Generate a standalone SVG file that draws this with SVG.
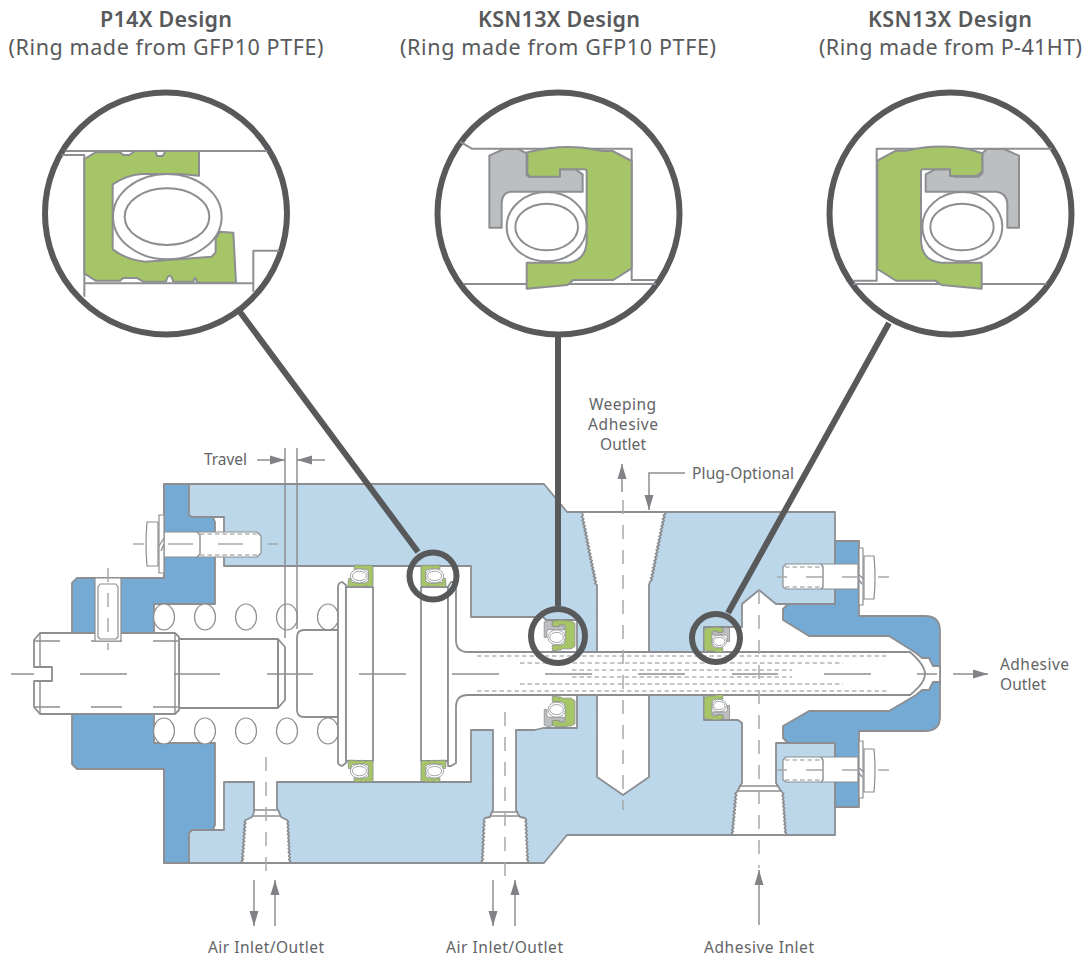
<svg xmlns="http://www.w3.org/2000/svg" xmlns:xlink="http://www.w3.org/1999/xlink" width="1086" height="958" viewBox="0 0 1086 958">
<style>
text{font-family:"Noto Sans","Liberation Sans",sans-serif;fill:#636466;text-anchor:middle}
.t{font-size:21.5px;fill:#58595b}
.b{font-weight:600}
.l{font-size:15.5px}
.ln{fill:none;stroke:#8c8e91;stroke-width:2;stroke-linejoin:round}
.th{fill:none;stroke:#8c8e91;stroke-width:1.4;stroke-linejoin:round}
.w{fill:#fff;stroke:#8c8e91;stroke-width:1.8;stroke-linejoin:round}
.w1{fill:#fff;stroke:#8c8e91;stroke-width:1.2;stroke-linejoin:round}
.c{fill:none;stroke:#a7a9ac;stroke-width:1.5}
.cd{fill:none;stroke:#8c8e91;stroke-width:1.5}
.d{fill:none;stroke:#8c8e91;stroke-width:1;stroke-dasharray:4.5 3}
.s{vector-effect:non-scaling-stroke;stroke:#8c8e91;stroke-linejoin:round}
.g{fill:#a6c567}.y{fill:#bcbec0}.o{fill:#fff}
.big{fill:#fff;stroke:#58595b;stroke-width:6}
.sm{fill:none;stroke:#58595b;stroke-width:6}
.lead{fill:none;stroke:#58595b;stroke-width:6}
.ar{fill:none;stroke:#8c8e91;stroke-width:1.5;marker-end:url(#a)}
</style>
<defs>
<marker id="a" markerUnits="userSpaceOnUse" markerWidth="16" markerHeight="10" refX="15" refY="5" orient="auto"><path d="M0,.5 L15,5 L0,9.5Z" fill="#808285"/></marker>
<g id="p14">
<path class="s g" d="M163,207 L197,187 H270 L280,195 H298 L315,183 H375 L382,198 H398 L407,183 H507 V257 L450,252 H335 Q290,255 248,283 V478 Q290,510 345,515 L545,500 L557,487 V445 L570,425 L610,428 L618,578 H510 L500,575 Q495,555 490,575 H430 Q418,540 408,575 H340 L320,564 H280 L270,572 H197 L163,550 Z"/>
<ellipse class="s o" cx="412" cy="380" rx="163" ry="128"/><ellipse class="s o" cx="411" cy="380" rx="127" ry="85"/>
</g>
<g id="ksnL">
<path class="s y" d="M178,197 L222,177 H265 L290,190 V255 L297,260 H372 V238 H437 L458,253 V305 H240 Q215,310 215,340 V413 H178 Z"/>
<path class="s g" d="M292,187 Q400,160 490,178 L518,183 H548 L605,213 V535 L550,570 H430 L412,585 L290,596 V518 H415 Q470,510 470,450 V245 Q470,238 462,238 H390 V260 H300 L292,252 Z"/>
<ellipse class="s o" cx="350" cy="410" rx="120" ry="104"/><ellipse class="s o" cx="350" cy="411" rx="94" ry="70"/>
</g>
<g id="ksnR">
<path class="s y" d="M487,190 L500,177 H552 L597,197 V413 H562 V340 Q560,310 530,305 H317 V253 L345,238 H403 V260 H475 L487,250 Z"/>
<path class="s g" d="M172,212 L228,182 H260 Q350,160 440,176 L487,190 V245 L470,258 H390 V238 H310 Q303,238 303,245 V450 Q305,515 365,518 H485 V596 L365,585 L345,572 H228 L172,537 Z"/>
<ellipse class="s o" cx="427" cy="410" rx="120" ry="104"/><ellipse class="s o" cx="426" cy="411" rx="95" ry="70"/>
</g>
<g id="bolt">
<path class="w1" d="M-1,-13 H-73 L-76,-10 V10 L-73,12 H-1 Z"/>
<path class="d" d="M-74,-10 H-36 M-74,10 H-36"/>
<path class="th" d="M-38,-13 L-36,-10 V10 L-38,12"/>
<rect class="w1" x="0" y="-29" width="4" height="57"/>
<path class="th" d="M0,-2 L5,2 M0,3 L3,7"/>
<path class="w1" d="M5,-21 H15 Q17,0 15,22 H5 Z"/>
</g>
</defs>

<g id="body">
<path class="w" style="fill:#bcd7ea" d="M164,484 H544 L567,512 H835 V835 H567 L544,863 H164 Z"/>
</g>
<g id="left-cap">
<path class="w" style="fill:#74aad3" d="M164,484 H189 V515 L192,517 H213 L215,522 V825 L213,830 H192 L189,833 V863 H164 V769 H77 L72,764 V583 L77,578 H164 Z"/>
</g>
<g id="right-cap">
<path class="w" style="fill:#74aad3" d="M835,541 H859 V616 H925 Q940,616 940,631 V717 Q940,731 925,731 H859 V807 H835 V743 H788 L783,738 V726 L790,700 V648 L783,620 V609 L788,604 H835 Z"/>
</g>
<g id="cavity">
<path class="w" d="M215,604 V522 L213,517 H224 V566 H471 V617 H543 L546,620 H577 V652 H597 V585
l-2.2,-1.74 1.5,-1.74 -2.2,-1.74 1.5,-1.74 -2.2,-1.74 1.5,-1.74 -2.2,-1.74 1.5,-1.74 -2.2,-1.74 1.5,-1.74 -2.2,-1.74 1.5,-1.74 -2.2,-1.74 1.5,-1.74 -2.2,-1.74 1.5,-1.74 -2.2,-1.74 1.5,-1.74 -2.2,-1.74 1.5,-1.74 -2.2,-1.74 1.5,-1.74 -2.2,-1.74 1.5,-1.74 -2.2,-1.74 1.5,-1.74 -2.2,-1.74 1.5,-1.74 -2.2,-1.74 1.5,-1.74 -2.2,-1.74 1.5,-1.74 -2.2,-1.74 1.5,-1.74 -2.2,-1.74 1.5,-1.74 -2.2,-1.74 1.5,-1.74 -2.2,-1.74 1.5,-1.74
L582,512 H664
l1.5,1.74 -2.2,1.74 1.5,1.74 -2.2,1.74 1.5,1.74 -2.2,1.74 1.5,1.74 -2.2,1.74 1.5,1.74 -2.2,1.74 1.5,1.74 -2.2,1.74 1.5,1.74 -2.2,1.74 1.5,1.74 -2.2,1.74 1.5,1.74 -2.2,1.74 1.5,1.74 -2.2,1.74 1.5,1.74 -2.2,1.74 1.5,1.74 -2.2,1.74 1.5,1.74 -2.2,1.74 1.5,1.74 -2.2,1.74 1.5,1.74 -2.2,1.74 1.5,1.74 -2.2,1.74 1.5,1.74 -2.2,1.74 1.5,1.74 -2.2,1.74 1.5,1.74 -2.2,1.74 1.5,1.74 -2.2,1.74
L649,585 V652 H704 V627 H742 V604 L759,590 L776,604 H788 L783,609 V620 L809,636 H889 L916,653 L922,658 H929 L933,666 H940 V682 H933 L929,690 H922 L916,695 L889,711 H809 L783,726 V738 L788,743 H776 V783 L779,788 L782,792
l1.5,1.8 -1.25,1.8 1.5,1.8 -1.25,1.8 1.5,1.8 -1.25,1.8 1.5,1.8 -1.25,1.8 1.5,1.8 -1.25,1.8 1.5,1.8 -1.25,1.8 1.5,1.8 -1.25,1.8 1.5,1.8 -1.25,1.8 1.5,1.8 -1.25,1.8 1.5,1.8 -1.25,1.8 1.5,1.8 -1.25,1.8 1.5,1.8 -1.25,1.8
L785,835 H733
l-1.5,-1.8 1.83,-1.8 -1.5,-1.8 1.83,-1.8 -1.5,-1.8 1.83,-1.8 -1.5,-1.8 1.83,-1.8 -1.5,-1.8 1.83,-1.8 -1.5,-1.8 1.83,-1.8 -1.5,-1.8 1.83,-1.8 -1.5,-1.8 1.83,-1.8 -1.5,-1.8 1.83,-1.8 -1.5,-1.8 1.83,-1.8 -1.5,-1.8 1.83,-1.8 -1.5,-1.8 1.83,-1.8
L737,792 L739,788 L742,783 V723 L738,720 H704 V695 H649 V777 L623,795 L597,777 V695 H577 V728 H543 L535,730 H516 V810 L518,814 L520,817 L525,818
l1.5,1.87 -1.33,1.87 1.5,1.87 -1.33,1.87 1.5,1.87 -1.33,1.87 1.5,1.87 -1.33,1.87 1.5,1.87 -1.33,1.87 1.5,1.87 -1.33,1.87 1.5,1.87 -1.33,1.87 1.5,1.87 -1.33,1.87 1.5,1.87 -1.33,1.87 1.5,1.87 -1.33,1.87 1.5,1.87 -1.33,1.87 1.5,1.87 -1.33,1.87
L527,863 H483
l-1.5,-1.87 1.67,-1.87 -1.5,-1.87 1.67,-1.87 -1.5,-1.87 1.67,-1.87 -1.5,-1.87 1.67,-1.87 -1.5,-1.87 1.67,-1.87 -1.5,-1.87 1.67,-1.87 -1.5,-1.87 1.67,-1.87 -1.5,-1.87 1.67,-1.87 -1.5,-1.87 1.67,-1.87 -1.5,-1.87 1.67,-1.87 -1.5,-1.87 1.67,-1.87 -1.5,-1.87 1.67,-1.87
L485,818 L490,817 L491,814 L493,810 V730 H471 V782 H277 V808 L279,812 L281,817 L287,820
l1.5,1.8 -1.33,1.8 1.5,1.8 -1.33,1.8 1.5,1.8 -1.33,1.8 1.5,1.8 -1.33,1.8 1.5,1.8 -1.33,1.8 1.5,1.8 -1.33,1.8 1.5,1.8 -1.33,1.8 1.5,1.8 -1.33,1.8 1.5,1.8 -1.33,1.8 1.5,1.8 -1.33,1.8 1.5,1.8 -1.33,1.8 1.5,1.8 -1.33,1.8
L289,863 H243
l-1.5,-1.8 1.75,-1.8 -1.5,-1.8 1.75,-1.8 -1.5,-1.8 1.75,-1.8 -1.5,-1.8 1.75,-1.8 -1.5,-1.8 1.75,-1.8 -1.5,-1.8 1.75,-1.8 -1.5,-1.8 1.75,-1.8 -1.5,-1.8 1.75,-1.8 -1.5,-1.8 1.75,-1.8 -1.5,-1.8 1.75,-1.8 -1.5,-1.8 1.75,-1.8 -1.5,-1.8 1.75,-1.8
L246,820 L252,817 L254,812 V782 H224 V830 H213 L215,825 V743 H154 V604 Z"/>
<path class="th" d="M252,816 H281 M254,810 H277 M491,816 H520 M492,812 H518 M739,786 H779 M737,791 H782"/>
</g>
<g id="springs">
<ellipse class="w1" cx="164" cy="617" rx="10.5" ry="13"/><ellipse class="w1" cx="205" cy="617" rx="10.5" ry="13"/><ellipse class="w1" cx="246" cy="617" rx="10.5" ry="13"/><ellipse class="w1" cx="287" cy="617" rx="10.5" ry="13"/><ellipse class="w1" cx="328" cy="617" rx="10.5" ry="13"/>
<ellipse class="w1" cx="164" cy="731" rx="10.5" ry="13"/><ellipse class="w1" cx="205" cy="731" rx="10.5" ry="13"/><ellipse class="w1" cx="246" cy="731" rx="10.5" ry="13"/><ellipse class="w1" cx="287" cy="731" rx="10.5" ry="13"/><ellipse class="w1" cx="328" cy="731" rx="10.5" ry="13"/>
</g>
<g id="plug">
<path class="w" d="M179,639 H278 L285,647 V700 L278,708 H179 Z"/>
<path class="ln" d="M278,639 V708"/>
<path class="w" d="M40,633 H175 L179,637 V710 L175,714 H40 L34,707 V681 H52 V667 H34 V640 Z"/>
<path class="th" d="M40,633 V667 M40,681 V714 M175,633 V714"/>
<path class="cd" d="M35,641 H60 M91,641 H122 M153,641 H178 M35,707 H60 M91,707 H122 M153,707 H178"/>
</g>
<g id="set-screw">
<rect class="w1" x="95" y="578" width="26" height="63"/>
<path class="w1" d="M98,587 L100,584 H116 L118,587 V637 L116,639 H100 L98,637 Z"/>
</g>
<g id="piston">
<path class="w" d="M338,630 H304 Q297,630 297,637 V710 Q297,717 304,717 H338 Z"/>
<path class="w" d="M346,585 L342,582 Q338,583 338,587 V762 Q338,765 342,766 L346,763 Z"/>
<rect class="w" x="346" y="587" width="27" height="174"/>
<rect class="w" x="421" y="587" width="27" height="174"/>
<path class="w" d="M448,587 L451,582 H456 V640 Q456,652 468,652 H910 Q925,665 925,674 Q925,683 910,695 H468 Q456,695 456,707 V763 L451,766 H448 Z"/>
<path class="d" d="M477,656 H889 M520,663 H843 M572,670 H792 M572,677 H792 M520,684 H843 M477,691 H889"/>
</g>
<g id="bolt-left">
<path class="w1" d="M164,532 H257 L261,536 V553 L257,557 H164 Z"/>
<path class="d" d="M200,534 H257 M200,555 H257"/>
<path class="th" d="M197,532 L200,535 V554 L197,557"/>
<rect class="w1" x="159" y="515" width="5" height="58"/>
<path class="th" d="M164,538 L159,546 M164,544 L161,551"/>
<path class="w1" d="M147,522 H158 V566 H147 Q145,544 147,522 Z"/>
</g>
<g id="bolt-right-top"><use xlink:href="#bolt" href="#bolt" transform="translate(859,577)"/></g>
<g id="bolt-right-bottom"><use xlink:href="#bolt" href="#bolt" transform="translate(859,770)"/></g>
<g id="seals" stroke-width=".8">
<use xlink:href="#p14" href="#p14" transform="translate(382,555) scale(-.055,.055)"/>
<use xlink:href="#p14" href="#p14" transform="translate(412,555) scale(.055)"/>
<use xlink:href="#p14" href="#p14" transform="translate(382,792) scale(-.055,-.055)"/>
<use xlink:href="#p14" href="#p14" transform="translate(412,792) scale(.055,-.055)"/>
<use xlink:href="#ksnL" href="#ksnL" transform="translate(531.4,607.8) scale(.072)"/>
<use xlink:href="#ksnL" href="#ksnL" transform="translate(531.4,739.2) scale(.072,-.072)"/>
<use xlink:href="#ksnR" href="#ksnR" transform="translate(693.7,616.8) scale(.06)"/>
<use xlink:href="#ksnR" href="#ksnR" transform="translate(693.7,730.2) scale(.06,-.06)"/>
</g>
<g id="centerlines">
<path class="cd" d="M11,674 H34 M80,674 H127 M174,674 H220 M267,674 H313 M359,674 H406 M452,674 H499 M545,674 H592 M638,674 H685 M732,674 H778 M824,674 H871 M917,674 H937"/>
<path class="c" style="stroke-dasharray:14 11" d="M623,500 V810 M266,757 V880 M505,712 V880 M759,590 V868 M108,568 V650"/>
<path class="c" d="M133,544 H144 M168,544 H193 M218,544 H243 M268,544 H278 M777,577 H787 M806,577 H823 M842,577 H859 M878,577 H889 M777,770 H787 M806,770 H823 M842,770 H859 M878,770 H889"/>
</g>

<g id="blowup-p14x">
<circle class="big" cx="166" cy="213.5" r="121"/>
<g transform="translate(30,90) scale(.33333)">
<path class="ln" style="stroke-width:6" d="M105,183 H712 M95,195 H163 V620 M163,580 H670 V605 M670,580 V482 H748"/>
<use xlink:href="#p14" href="#p14" stroke-width="2"/>
</g>
</g>
<g id="blowup-ksn-left">
<circle class="big" cx="558.5" cy="213.5" r="121"/>
<g transform="translate(430,90) scale(.33333)">
<path class="ln" style="stroke-width:6" d="M90,155 L125,176 H605 V570 H678 M100,582 H678"/>
<use xlink:href="#ksnL" href="#ksnL" stroke-width="2"/>
</g>
</g>
<g id="blowup-ksn-right">
<circle class="big" cx="950.5" cy="213.5" r="121"/>
<g transform="translate(820,90) scale(.33333)">
<path class="ln" style="stroke-width:6" d="M100,572 H170 V176 H695 M100,582 H680"/>
<use xlink:href="#ksnR" href="#ksnR" stroke-width="2"/>
</g>
</g>

<g id="connectors">
<path class="lead" d="M240,312 L418,552 M558,337 V606 M889,323 L728,613"/>
<circle class="sm" cx="433" cy="576" r="23.5"/>
<circle class="sm" cx="558" cy="636" r="27"/>
<circle class="sm" cx="716" cy="638" r="24"/>
<path class="ln" style="stroke-width:1.5" d="M285,448 V638 M297,448 V629"/>
<path class="ar" d="M257,460 H285"/>
<path class="ar" d="M325,460 H297"/>
<path class="ar" d="M622,492 V464"/>
<path class="ar" d="M685,473 H649 V510"/>
<path class="ar" d="M953,674 H988"/>
<path class="ar" d="M254,880 V926"/>
<path class="ar" d="M275,926 V880"/>
<path class="ar" d="M493,880 V926"/>
<path class="ar" d="M515,926 V880"/>
<path class="ar" d="M759,925 V870"/>
</g>

<g id="labels">
<text class="t b" x="166" y="27" textLength="132">P14X Design</text>
<text class="t" x="166" y="55" textLength="315">(Ring made from GFP10 PTFE)</text>
<text class="t b" x="559" y="27" textLength="162">KSN13X Design</text>
<text class="t" x="558" y="55" textLength="316">(Ring made from GFP10 PTFE)</text>
<text class="t b" x="950" y="27" textLength="164">KSN13X Design</text>
<text class="t" x="950.5" y="55" textLength="263">(Ring made from P-41HT)</text>
<text class="l" x="225.5" y="465" textLength="43">Travel</text>
<text class="l" x="622.5" y="410" textLength="67">Weeping</text>
<text class="l" x="623" y="430" textLength="70">Adhesive</text>
<text class="l" x="623" y="450" textLength="46">Outlet</text>
<text class="l" x="743" y="479" textLength="102">Plug-Optional</text>
<text class="l" x="1034.5" y="670" textLength="69">Adhesive</text>
<text class="l" x="1023" y="690" textLength="46">Outlet</text>
<text class="l" x="266" y="953" textLength="116">Air Inlet/Outlet</text>
<text class="l" x="504.5" y="953" textLength="117">Air Inlet/Outlet</text>
<text class="l" x="759" y="953" textLength="110">Adhesive Inlet</text>
</g>
</svg>
